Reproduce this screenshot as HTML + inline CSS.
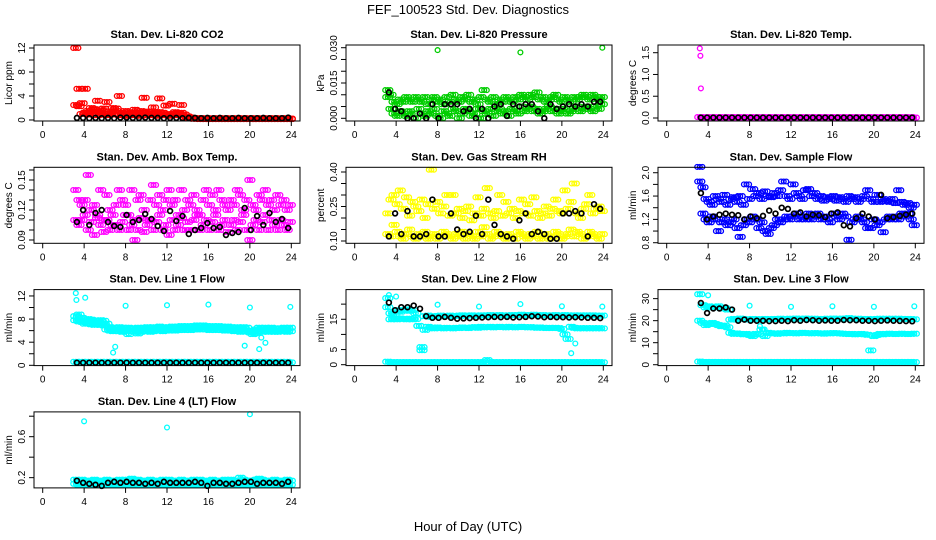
<!DOCTYPE html>
<html><head><meta charset="utf-8"><style>
body{margin:0;background:#fff}
svg{display:block;font-family:"Liberation Sans",sans-serif}
</style></head><body>
<svg id="chart" width="936" height="540" viewBox="0 0 936 540" xmlns="http://www.w3.org/2000/svg">
<rect width="936" height="540" fill="#fff"/>
<text x="468" y="14" font-size="13" text-anchor="middle">FEF_100523  Std. Dev. Diagnostics</text>
<text x="468" y="531" font-size="13" text-anchor="middle">Hour of Day (UTC)</text>
</svg>
<script>
const hours=[3.2,3.5,3.8,4.1,4.4,4.7,5.0,5.3,5.6,5.9,6.2,6.5,6.8,7.1,7.4,7.7,8.0,8.3,8.6,8.9,9.2,9.5,9.8,10.1,10.4,10.7,11.0,11.3,11.6,11.9,12.2,12.5,12.8,13.1,13.4,13.7,14.0,14.3,14.6,14.9,15.2,15.5,15.8,16.1,16.4,16.7,17.0,17.3,17.6,17.9,18.2,18.5,18.8,19.1,19.4,19.7,20.0,20.3,20.6,20.9,21.2,21.5,21.8,22.1,22.4,22.7,23.0,23.3,23.6,23.9];
const hoursB=[3.3,3.9,4.5,5.1,5.7,6.3,6.9,7.5,8.1,8.7,9.3,9.9,10.5,11.1,11.7,12.3,12.9,13.5,14.1,14.7,15.3,15.9,16.5,17.1,17.7,18.3,18.9,19.5,20.1,20.7,21.3,21.9,22.5,23.1,23.7];
const xTicks=[0,4,8,12,16,20,24];

// Panel 1 CO2
const co2A=[12,5.2,2.8,5.2,1.5,2.0,1.8,3.2,1.6,1.9,3.0,1.4,2.0,1.9,4.0,1.2,1.5,1.0,1.3,1.7,1.2,1.5,3.7,1.4,1.1,2.1,1.3,3.6,1.2,2.4,1.0,2.7,1.3,1.1,2.5,0.9,0.6,0.4,0.3,0.3,0.3,0.25,0.3,0.2,0.3,0.25,0.3,0.2,0.3,0.25,0.3,0.2,0.3,0.25,0.3,0.2,0.3,0.25,0.3,0.2,0.3,0.25,0.3,0.2,0.3,0.25,0.3,0.2,0.3,0.25];
const co2B=[2.5,2.3,1.0,1.2,0.9,1.1,1.4,0.8,1.2,1.0,0.8,1.1,0.9,1.5,0.8,1.0,0.7,0.9,1.1,0.8,1.0,0.7,1.2,0.9,0.8,1.0,0.7,1.3,0.8,0.9,0.7,0.9,1.0,0.8,1.2,0.5,0.4,0.3,0.2,0.2,0.15,0.15,0.15,0.15,0.15,0.15,0.15,0.15,0.15,0.15,0.15,0.15,0.15,0.15,0.15,0.15,0.15,0.15,0.15,0.15,0.15,0.15,0.15,0.15,0.15,0.15,0.15,0.15,0.15,0.15];
const co2K=[0.35,0.35,0.3,0.35,0.3,0.35,0.3,0.4,0.4,0.35,0.35,0.4,0.35,0.35,0.3,0.35,0.35,0.3,0.35,0.35,0.3,0.35,0.3,0.35,0.3,0.3,0.35,0.3,0.3,0.3,0.35,0.3,0.3,0.3,0.4];

// Panel 2 pressure
const presA=[0.012,0.010,0.007,0.006,0.008,0.007,0.009,0.008,0.007,0.009,0.008,0.007,0.009,0.006,0.008,0.009,0.007,0.008,0.006,0.009,0.007,0.010,0.008,0.007,0.009,0.008,0.010,0.007,0.008,0.006,0.009,0.012,0.008,0.007,0.009,0.006,0.008,0.007,0.009,0.008,0.007,0.009,0.008,0.010,0.009,0.008,0.010,0.009,0.011,0.008,0.009,0.007,0.008,0.009,0.010,0.008,0.007,0.009,0.008,0.007,0.009,0.008,0.009,0.010,0.009,0.008,0.010,0.009,0.008,0.009];
const presB=[0.009,0.004,0.002,0.001,0.003,0.002,0.001,0.003,0.002,0.000,0.004,0.002,0.001,0.003,0.002,0.004,0.001,0.000,0.003,0.002,0.001,0.004,0.003,0.000,0.002,0.004,0.003,0.001,0.002,0.004,0.000,0.003,0.002,0.004,0.001,0.003,0.004,0.002,0.003,0.001,0.004,0.003,0.002,0.005,0.003,0.004,0.005,0.003,0.004,0.002,0.003,0.004,0.005,0.003,0.004,0.002,0.003,0.004,0.002,0.003,0.004,0.005,0.003,0.004,0.005,0.004,0.003,0.005,0.004,0.006];
const presOutH=[8,16,23.9];
const presOut=[0.029,0.028,0.030];
const presK=[0.011,0.004,0.003,0.000,0.000,0.002,0.000,0.006,0.000,0.006,0.006,0.006,0.003,0.004,0.000,0.004,0.000,0.005,0.006,0.001,0.006,0.005,0.006,0.006,0.003,0.000,0.006,0.004,0.005,0.006,0.005,0.006,0.005,0.007,0.007];

// Panel 3 Li-820 temp
const tmpA=[0.02,0.01,0.02,0.01,0.02,0.01,0.02,0.01,0.02,0.01,0.02,0.01,0.02,0.01,0.02,0.01,0.02,0.01,0.02,0.01,0.02,0.01,0.02,0.01,0.02,0.01,0.02,0.01,0.02,0.01,0.02,0.01,0.02,0.01,0.02,0.01,0.02,0.01,0.02,0.01,0.02,0.01,0.02,0.01,0.02,0.01,0.02,0.01,0.02,0.01,0.02,0.01,0.02,0.01,0.02,0.01,0.02,0.01,0.02,0.01,0.02,0.01,0.02,0.01,0.02,0.01,0.02,0.01,0.02,0.01];
const tmpOutH=[3.2,3.25,3.3];
const tmpOut=[1.6,1.43,0.68];
const tmpK=[0.01,0.01,0.01,0.01,0.01,0.01,0.01,0.01,0.01,0.01,0.01,0.01,0.01,0.01,0.01,0.01,0.01,0.01,0.01,0.01,0.01,0.01,0.01,0.01,0.01,0.01,0.01,0.01,0.01,0.01,0.01,0.01,0.01,0.01,0.01];

// Panel 4 amb box temp
const boxA=[0.14,0.13,0.125,0.13,0.155,0.12,0.125,0.115,0.14,0.11,0.135,0.12,0.105,0.125,0.14,0.13,0.125,0.115,0.14,0.09,0.13,0.135,0.12,0.11,0.13,0.145,0.125,0.135,0.12,0.13,0.14,0.125,0.13,0.115,0.14,0.12,0.13,0.125,0.135,0.12,0.115,0.13,0.14,0.125,0.135,0.12,0.14,0.13,0.125,0.12,0.13,0.125,0.14,0.135,0.12,0.13,0.15,0.125,0.12,0.135,0.13,0.14,0.125,0.13,0.12,0.135,0.125,0.13,0.12,0.125];
const boxB=[0.11,0.105,0.11,0.115,0.1,0.108,0.095,0.112,0.105,0.098,0.11,0.1,0.115,0.105,0.1,0.108,0.115,0.1,0.105,0.11,0.1,0.112,0.098,0.105,0.11,0.1,0.108,0.115,0.1,0.105,0.095,0.11,0.1,0.105,0.112,0.1,0.108,0.1,0.11,0.115,0.1,0.105,0.11,0.1,0.108,0.115,0.1,0.105,0.11,0.098,0.105,0.11,0.1,0.108,0.115,0.1,0.09,0.105,0.11,0.1,0.108,0.115,0.1,0.11,0.105,0.1,0.11,0.105,0.1,0.108];
const boxK=[0.108,0.12,0.105,0.117,0.12,0.108,0.104,0.103,0.115,0.108,0.11,0.116,0.111,0.104,0.099,0.119,0.109,0.114,0.096,0.1,0.102,0.107,0.102,0.103,0.095,0.097,0.098,0.122,0.1,0.114,0.105,0.117,0.108,0.111,0.102];

// Panel 5 RH
const rhA=[0.22,0.28,0.3,0.26,0.32,0.24,0.29,0.21,0.27,0.25,0.23,0.28,0.2,0.26,0.41,0.24,0.27,0.22,0.25,0.3,0.21,0.3,0.22,0.24,0.2,0.23,0.25,0.19,0.22,0.29,0.21,0.24,0.33,0.22,0.2,0.23,0.3,0.21,0.27,0.22,0.24,0.2,0.23,0.28,0.22,0.26,0.21,0.29,0.23,0.2,0.22,0.25,0.21,0.24,0.28,0.23,0.22,0.32,0.24,0.27,0.35,0.22,0.2,0.24,0.26,0.3,0.22,0.24,0.25,0.23];
const rhB=[0.13,0.12,0.17,0.14,0.12,0.11,0.13,0.15,0.12,0.11,0.13,0.12,0.14,0.11,0.12,0.13,0.11,0.12,0.14,0.13,0.12,0.11,0.13,0.12,0.14,0.11,0.13,0.12,0.11,0.14,0.12,0.16,0.13,0.11,0.12,0.14,0.13,0.12,0.11,0.13,0.12,0.11,0.14,0.13,0.12,0.11,0.13,0.12,0.14,0.11,0.12,0.13,0.11,0.12,0.14,0.13,0.11,0.12,0.13,0.15,0.12,0.14,0.13,0.11,0.12,0.14,0.13,0.12,0.11,0.13];
const rhK=[0.12,0.22,0.13,0.23,0.12,0.12,0.13,0.28,0.12,0.12,0.22,0.15,0.13,0.14,0.21,0.13,0.28,0.17,0.13,0.12,0.11,0.19,0.22,0.13,0.14,0.13,0.11,0.11,0.22,0.22,0.23,0.22,0.12,0.26,0.24];

// Panel 6 sample flow
const sfA=[2.1,1.75,1.55,1.5,1.45,1.6,1.55,1.5,1.62,1.45,1.55,1.58,1.5,1.6,1.45,1.8,1.55,1.72,1.6,1.65,1.55,1.68,1.6,1.58,1.65,1.6,1.7,1.85,1.6,1.55,1.8,1.65,1.6,1.55,1.7,1.72,1.6,1.65,1.55,1.6,1.52,1.58,1.55,1.6,1.52,1.58,1.55,1.5,1.6,1.55,1.58,1.5,1.55,1.6,1.7,1.55,1.5,1.62,1.5,1.55,1.52,1.5,1.55,1.48,1.7,1.5,1.45,1.48,1.4,1.45];
const sfB=[1.85,1.3,1.2,1.15,1.25,1.2,1.0,1.15,1.2,1.1,1.15,1.2,1.05,0.9,1.1,1.2,1.15,1.25,1.2,1.05,1.15,1.0,0.95,1.05,1.1,1.2,1.15,1.2,1.25,1.2,1.25,1.3,1.2,1.25,1.2,1.3,1.2,1.25,1.3,1.2,1.25,1.2,1.15,1.3,1.25,1.2,1.3,1.25,0.85,1.15,1.2,1.25,1.2,1.15,1.05,1.05,1.2,1.1,1.15,0.98,1.2,1.25,1.2,1.25,1.2,1.3,1.25,1.3,1.2,1.1];
const sfK=[1.65,1.2,1.25,1.28,1.3,1.28,1.27,1.2,1.25,1.22,1.26,1.35,1.3,1.4,1.38,1.3,1.32,1.25,1.28,1.27,1.24,1.3,1.32,1.1,1.08,1.22,1.3,1.25,1.2,1.62,1.22,1.24,1.26,1.28,1.3];

// Panel 7 line 1
const l1A=[8.5,8.8,8.2,7.8,8.0,7.9,7.7,7.6,7.8,7.7,7.2,6.6,6.5,6.4,6.6,6.5,6.4,6.5,6.3,6.4,6.5,6.4,6.5,6.6,6.5,6.6,6.5,6.7,6.6,6.5,6.6,6.7,6.6,6.7,6.8,6.7,6.8,6.7,6.8,6.9,6.8,6.9,6.8,6.7,6.8,6.7,6.8,6.7,6.6,6.7,6.6,6.5,6.6,6.5,6.6,6.5,6.0,5.9,6.2,6.5,6.4,6.5,6.4,6.5,6.4,6.3,6.4,6.5,6.4,6.5];
const l1B=[7.8,7.6,7.5,7.2,7.3,7.1,7.0,7.2,7.0,6.9,6.2,6.0,5.9,6.0,5.9,5.8,6.0,5.4,5.9,5.8,5.5,5.8,6.0,5.9,5.8,5.9,6.0,6.0,5.9,6.0,6.0,6.1,6.0,6.1,6.2,6.1,6.2,6.1,6.2,6.2,6.2,6.3,6.2,6.1,6.2,6.1,6.2,6.1,6.0,6.1,6.0,5.9,6.0,5.8,6.0,5.9,5.7,5.4,5.6,5.9,5.8,5.9,5.8,5.9,5.8,5.8,5.9,5.9,5.8,5.9];
const l1C=[0.6,0.5,0.6,0.5,0.6,0.5,0.6,0.5,0.6,0.5,0.6,0.5,0.6,0.5,0.6,0.5,0.6,0.5,0.6,0.5,0.6,0.5,0.6,0.5,0.6,0.5,0.6,0.5,0.6,0.5,0.6,0.5,0.6,0.5,0.6,0.5,0.6,0.5,0.6,0.5,0.6,0.5,0.6,0.5,0.6,0.5,0.6,0.5,0.6,0.5,0.6,0.5,0.6,0.5,0.6,0.5,0.6,0.5,0.6,0.5,0.6,0.5,0.6,0.5,0.6,0.5,0.6,0.5,0.6,0.5];
const l1OutH=[3.2,3.25,4.1,6.8,7.0,8.0,12.0,16.0,19.5,20.0,20.9,21.1,21.5,23.9];
const l1Out=[12.5,11.3,11.7,2.2,3.2,10.3,10.4,10.5,3.4,10.0,2.8,4.8,3.9,10.1];
const l1K=[0.45,0.45,0.45,0.45,0.45,0.45,0.45,0.45,0.45,0.45,0.45,0.45,0.45,0.45,0.45,0.45,0.45,0.45,0.45,0.45,0.45,0.45,0.45,0.45,0.45,0.45,0.45,0.45,0.45,0.45,0.45,0.45,0.45,0.45,0.45];

// Panel 8 line 2
const l2A=[22,17,16.5,18,17.5,18,18.3,17.8,18,17,12.8,4.8,16,16.2,15.8,16,16.1,16.2,16,16.1,16.2,16,16.1,16.2,16.3,16.1,16.2,16.3,16.2,16.1,16.3,16.2,16.3,16.4,16.3,16.2,16.4,16.3,16.2,16.3,16.4,16.3,16.4,16.5,16.4,16.3,16.4,16.5,16.4,16.3,16.4,16.3,16.2,16.3,16.4,16.2,16.3,16.4,16.3,16.2,16.3,16.2,16.3,16.2,16.3,16.2,16.3,16.2,16.1,16.2];
const l2B=[19,15,15.2,15,15.3,15.1,15,15.2,15,15.1,12.8,5.8,11.5,12.5,12.2,12,12.3,12.1,12,12.2,12.1,12,12.2,12.1,12.3,12.2,12.1,12.3,12.4,12.2,12.5,12.3,12.4,12.5,12.3,12.4,12.5,12.4,12.3,12.5,12.4,12.3,12.4,12.5,12.4,12.3,12.4,12.3,12.2,12.3,12.2,12.1,12.2,12.1,12.2,12.1,11.8,10,8.5,12.5,12.2,12,12.1,12,12.1,12,12.1,12,12.1,12];
const l2C=[1.0,0.8,0.9,0.8,0.9,0.8,0.9,0.8,0.9,0.8,0.9,0.8,0.9,0.8,0.9,0.8,0.9,0.8,0.9,0.8,0.9,0.8,0.9,0.8,0.9,0.8,0.9,0.8,0.9,0.8,0.9,0.8,1.5,0.8,0.9,0.8,0.9,0.8,0.9,0.8,0.9,0.8,0.9,0.8,0.9,0.8,0.9,0.8,0.9,0.8,0.9,0.8,0.9,0.8,0.9,0.8,0.9,0.8,0.9,0.8,0.9,0.8,0.9,0.8,0.9,0.8,0.9,0.8,0.9,0.8];
const l2OutH=[3.3,4.0,8.0,12.0,16.0,20.0,20.9,21.3,23.9];
const l2Out=[23,22.5,19.8,19.2,20,19.3,3.8,7,19.2];
const l2K=[20.5,18,19,19,19.5,18.5,16,15.5,15.5,15.8,15.5,15.2,15.3,15.4,15.5,15.6,15.7,15.8,15.7,15.8,15.6,15.7,15.8,16,15.9,15.7,15.8,15.7,15.7,15.6,15.7,15.6,15.5,15.5,15.4];

// Panel 9 line 3
const l3A=[32,27,26,26.5,26,26.2,26.5,25.5,25.8,25,20.5,20.8,20.5,21,20.8,20.6,20.5,20.8,20.6,20.7,20.6,20.8,20.7,20.6,20.8,20.7,20.9,20.8,20.7,20.9,20.8,21,20.9,20.8,21,20.9,20.8,20.9,20.8,20.7,20.8,20.9,20.8,21,20.9,20.8,21,20.9,21.2,20.9,20.8,20.9,20.8,20.7,20.8,20.6,20.7,20.8,20.9,20.8,20.9,20.8,20.9,20.8,20.9,20.8,20.7,20.8,20.7,20.6];
const l3B=[20,19,18,18.5,19,18.5,18,17.5,17.8,17,14.5,14,14.2,14,13.8,14,13.5,13,14,13.8,16,13,14.5,14.3,14.2,14,14.3,14.2,14.5,14.3,14.4,14.2,14.3,14.5,14.4,14.3,14.2,14.4,14.3,14.2,14.1,14.3,14.2,14.4,14.3,14.2,14.1,14,13.9,14,13.8,13.9,14,13.8,13.6,6.5,13,13.5,14,13.8,14,14.1,14,13.9,14,14.1,14,13.9,14,14.1];
const l3C=[1.4,1.2,1.3,1.2,1.3,1.2,1.3,1.2,1.3,1.2,1.3,1.2,1.3,1.2,1.3,1.2,1.3,1.2,1.3,1.2,1.3,1.2,1.3,1.2,1.3,1.2,1.3,1.2,1.3,1.2,1.3,1.2,1.3,1.2,1.3,1.2,1.3,1.2,1.3,1.2,1.3,1.2,1.3,1.2,1.3,1.2,1.3,1.2,1.3,1.2,1.3,1.2,1.3,1.2,1.3,1.2,1.3,1.2,1.3,1.2,1.3,1.2,1.3,1.2,1.3,1.2,1.3,1.2,1.3,1.2];
const l3OutH=[3.2,4.0,8.0,12.0,16.0,20.0,23.9,9.0,9.3,9.6];
const l3Out=[32,31.5,26.8,26.3,26.5,26.3,26.5,17.5,16,14.5];
const l3K=[28,23.5,25.5,25.5,26,25,20,20.5,20,20,20,19.8,19.8,20,19.8,20.2,20,20.3,20.2,20,20.1,20,20,20.3,20.2,20.2,20,20,19.8,20,20.1,20,19.9,19.8,19.7];

// Panel 10 line 4
const l4A=[0.18,0.17,0.18,0.17,0.16,0.17,0.18,0.17,0.16,0.17,0.18,0.17,0.16,0.17,0.18,0.17,0.18,0.17,0.19,0.17,0.18,0.17,0.16,0.17,0.18,0.17,0.16,0.17,0.18,0.17,0.18,0.17,0.16,0.17,0.18,0.17,0.16,0.17,0.18,0.17,0.18,0.17,0.16,0.17,0.18,0.17,0.16,0.17,0.18,0.17,0.18,0.17,0.16,0.2,0.18,0.17,0.16,0.17,0.18,0.19,0.18,0.17,0.16,0.17,0.18,0.17,0.16,0.17,0.18,0.17];
const l4B=[0.14,0.13,0.14,0.13,0.14,0.13,0.14,0.13,0.14,0.13,0.14,0.13,0.14,0.13,0.14,0.13,0.14,0.13,0.14,0.13,0.14,0.13,0.14,0.13,0.14,0.13,0.14,0.13,0.14,0.13,0.14,0.13,0.14,0.13,0.14,0.13,0.14,0.13,0.14,0.13,0.14,0.13,0.14,0.13,0.14,0.13,0.14,0.13,0.14,0.13,0.14,0.13,0.14,0.13,0.14,0.13,0.14,0.13,0.14,0.13,0.14,0.13,0.14,0.13,0.14,0.13,0.14,0.13,0.14,0.13];
const l4OutH=[4.0,12.0,20.0];
const l4Out=[0.75,0.69,0.82];
const l4K=[0.17,0.15,0.14,0.13,0.12,0.15,0.16,0.15,0.16,0.15,0.15,0.14,0.15,0.14,0.16,0.15,0.15,0.15,0.15,0.16,0.15,0.12,0.15,0.15,0.14,0.14,0.15,0.16,0.16,0.14,0.15,0.15,0.15,0.14,0.16];

const RED='#ff0000',GRN='#00cd00',MAG='#ff00ff',YEL='#ffff00',BLU='#0000ff',CYN='#00ffff',BLK='#000000';
const panels=[
 {name:'co2',title:'Stan. Dev. Li-820 CO2',ylab:'Licor ppm',dom:[-0.17,12.5],ticks:[0,2,4,6,8,10,12],labels:[0,4,8,12],fmt:v=>String(v),
  series:[[hours,co2A,RED,1],[hours,co2B,RED,1],[hoursB,co2K,BLK,0]]},
 {name:'pressure',title:'Stan. Dev. Li-820 Pressure',ylab:'kPa',dom:[-0.00115,0.03115],ticks:[0,0.005,0.01,0.015,0.02,0.025,0.03],labels:[0,0.015,0.03],fmt:v=>v.toFixed(3),
  series:[[hours,presA,GRN,1],[hours,presB,GRN,1],[presOutH,presOut,GRN,0],[hoursB,presK,BLK,0]]},
 {name:'li820-temp',title:'Stan. Dev. Li-820 Temp.',ylab:'degrees C',dom:[-0.069,1.677],ticks:[0,0.5,1,1.5],labels:[0,0.5,1,1.5],fmt:v=>v.toFixed(1),
  series:[[hours,tmpA,MAG,1],[tmpOutH,tmpOut,MAG,0],[hoursB,tmpK,BLK,0]]},
 {name:'amb-box-temp',title:'Stan. Dev. Amb. Box Temp.',ylab:'degrees C',dom:[0.0867,0.1627],ticks:[0.09,0.1,0.11,0.12,0.13,0.14,0.15,0.16],labels:[0.09,0.12,0.15],fmt:v=>v.toFixed(2),
  series:[[hours,boxA,MAG,1],[hours,boxB,MAG,1],[hoursB,boxK,BLK,0]]},
 {name:'gas-stream-rh',title:'Stan. Dev. Gas Stream RH',ylab:'percent',dom:[0.09,0.4204],ticks:[0.1,0.15,0.2,0.25,0.3,0.35,0.4],labels:[0.1,0.25,0.4],fmt:v=>v.toFixed(2),
  series:[[hours,rhA,YEL,1],[hours,rhB,YEL,1],[hoursB,rhK,BLK,0]]},
 {name:'sample-flow',title:'Stan. Dev. Sample Flow',ylab:'ml/min',dom:[0.79,2.093],ticks:[0.8,1.0,1.2,1.4,1.6,1.8,2.0],labels:[0.8,1.2,1.6,2.0],fmt:v=>v.toFixed(1),
  series:[[hours,sfA,BLU,1],[hours,sfB,BLU,1],[hoursB,sfK,BLK,0]]},
 {name:'line1-flow',title:'Stan. Dev. Line 1 Flow',ylab:'ml/min',dom:[-0.05,13.1],ticks:[0,2,4,6,8,10,12],labels:[0,4,8,12],fmt:v=>String(v),
  series:[[hours,l1A,CYN,1],[hours,l1B,CYN,1],[hours,l1C,CYN,1],[l1OutH,l1Out,CYN,0],[hoursB,l1K,BLK,0]]},
 {name:'line2-flow',title:'Stan. Dev. Line 2 Flow',ylab:'ml/min',dom:[-0.3,24.8],ticks:[0,5,10,15,20],labels:[0,5,15],fmt:v=>String(v),
  series:[[hours,l2C,CYN,1],[hours,l2B,CYN,1],[hours,l2A,CYN,1],[l2OutH,l2Out,CYN,0],[hoursB,l2K,BLK,0]]},
 {name:'line3-flow',title:'Stan. Dev. Line 3 Flow',ylab:'ml/min',dom:[-0.4,34.1],ticks:[0,5,10,15,20,25,30],labels:[0,10,20,30],fmt:v=>String(v),
  series:[[hours,l3C,CYN,1],[hours,l3B,CYN,1],[hours,l3A,CYN,1],[l3OutH,l3Out,CYN,0],[hoursB,l3K,BLK,0]]},
 {name:'line4-flow',title:'Stan. Dev. Line 4 (LT) Flow',ylab:'ml/min',dom:[0.1,0.842],ticks:[0.2,0.4,0.6,0.8],labels:[0.2,0.6],fmt:v=>v.toFixed(1),
  series:[[hours,l4A,CYN,1],[hours,l4B,CYN,1],[l4OutH,l4Out,CYN,0],[hoursB,l4K,BLK,0]]}
];
const NS='http://www.w3.org/2000/svg';
const svg=document.getElementById('chart');
const DENSE_OFFSETS=[-2.6,0,2.6];
function mk(tag,attrs,parent,txt){const e=document.createElementNS(NS,tag);for(const k in attrs)e.setAttribute(k,attrs[k]);if(txt!==undefined)e.textContent=txt;parent.appendChild(e);return e;}
panels.forEach((p,i)=>{
  const col=i%3,row=Math.floor(i/3);
  const L=34+312*col,R=300+312*col,T=45+122.3*row,B=121+122.3*row;
  const sx=h=>L+8.7+(h/24)*(R-L-17.4);
  const sy=v=>B-(v-p.dom[0])/(p.dom[1]-p.dom[0])*(B-T);
  const g=mk('g',{},svg);
  
  
  const t=mk('text',{x:(L+R)/2,y:T-7,'font-size':11,'font-weight':'bold','text-anchor':'middle'},g,p.title);
  
  
  const pts=mk('g',{fill:'none'},g);
  
  
  p.series.forEach(s=>{
    const [hx,vals,color,dense]=s;
    const offs=dense?DENSE_OFFSETS:[0];
    const sw=color===BLK?1.7:1.3;
    vals.forEach((v,j)=>{
      offs.forEach(o=>{
        const c=mk('circle',{cx:(sx(hx[j])+o).toFixed(1),cy:sy(v).toFixed(1),r:2.4,stroke:color,'stroke-width':sw},pts);
        
        
      });
    });
  });
  const box=mk('rect',{x:L,y:T,width:R-L,height:B-T,fill:'none',stroke:'#000','stroke-width':1},g);
  
  
  const xa=mk('g',{stroke:'#000','stroke-width':1},g);
  
  
  xTicks.forEach(h=>{
    mk('line',{x1:sx(h),x2:sx(h),y1:B,y2:B+5},xa);
    const lb=mk('text',{x:sx(h),y:B+17,'font-size':10,'text-anchor':'middle',stroke:'none',fill:'#000'},xa,String(h));
    
    
  });
  const ya=mk('g',{stroke:'#000','stroke-width':1},g);
  
  
  p.ticks.forEach(v=>{mk('line',{x1:L-5,x2:L,y1:sy(v),y2:sy(v)},ya);});
  p.labels.forEach(v=>{
    const y=sy(v);
    const lb=mk('text',{x:L-9,y:y,'font-size':10,'text-anchor':'middle',stroke:'none',fill:'#000',transform:`rotate(-90 ${L-9} ${y})`},ya,p.fmt(v));
    
    
  });
  const yt=mk('text',{x:L-22,y:(T+B)/2,'font-size':10,'text-anchor':'middle',transform:`rotate(-90 ${L-22} ${(T+B)/2})`},g,p.ylab);
  
  
});
</script>
</body></html>
